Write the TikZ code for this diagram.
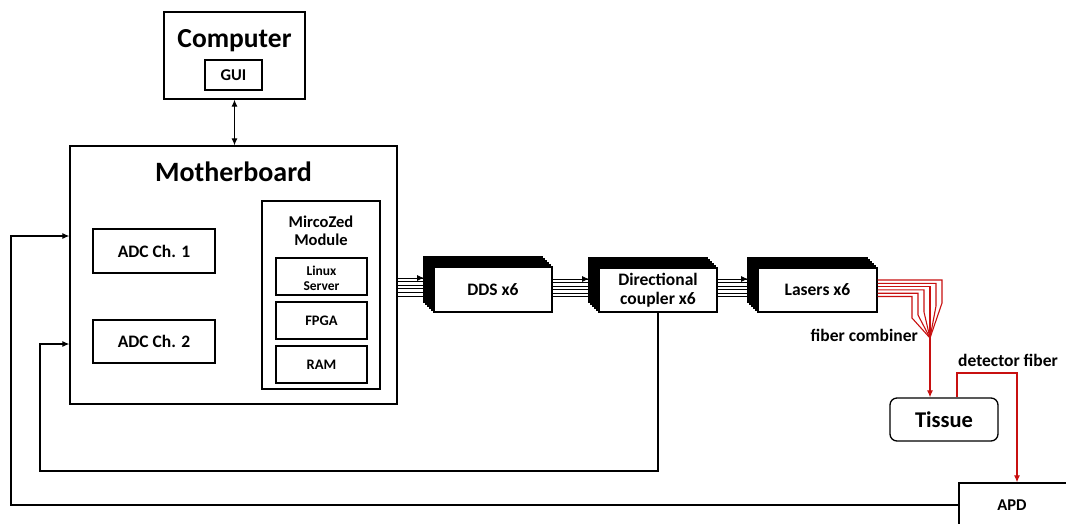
\documentclass[tikz,border=0pt]{standalone}
\usepackage{fontspec}
\setmainfont{Carlito}
\usetikzlibrary{arrows.meta}
\definecolor{fibred}{RGB}{200,16,16}
\newcommand\fsz[1]{\fontsize{#1}{#1}\selectfont\bfseries}
\begin{document}
\begin{tikzpicture}[x=1pt,y=-1pt,
  box/.style={draw, line width=1.3pt, fill=white, inner sep=0pt, align=center},
  layer/.style={draw, line width=1.1pt, fill=white},
  lbl/.style={inner sep=0pt, font=\fsz{17.5}},
  conn/.style={line width=1.1pt},
  tip/.style={-{Latex[length=7pt,width=6pt]}},
  fib/.style={draw=fibred, line width=1.1pt},
]
\useasboundingbox (0,0) rectangle (1066,523);

% Computer
\node[box, minimum width=141pt, minimum height=87pt] (comp) at (234.5,55.5) {};
\node[lbl, anchor=base, font=\fsz{27.5}] (comptxt) at (234.5,47) {Computer};
\node[box, minimum width=57pt, minimum height=30pt, font=\fsz{16.5}] (gui) at (233.5,75) {GUI};

% Motherboard
\node[box, minimum width=327pt, minimum height=258pt] (mb) at (233.5,275) {};
\node[lbl, anchor=base, font=\fsz{28}] (mbtxt) at (233.5,181) {Motherboard};
\node[box, minimum width=122pt, minimum height=44pt, font=\fsz{17.5}] (adc1) at (154,251) {ADC Ch. 1};
\node[box, minimum width=122pt, minimum height=43pt, font=\fsz{17.5}] (adc2) at (154,341.5) {ADC Ch. 2};

% MicroZed module
\node[box, minimum width=118pt, minimum height=188pt] (mz) at (321,295) {};
\node[lbl, anchor=base, font=\fsz{16.5}] (mzt1) at (321,227) {MircoZed};
\node[lbl, anchor=base, font=\fsz{16.5}] (mzt2) at (321,245) {Module};
\node[box, minimum width=91pt, minimum height=37pt] (linux) at (321.5,276.5) {};
\node[lbl, anchor=base, font=\fsz{13.5}] (lin1) at (321.5,275) {Linux};
\node[lbl, anchor=base, font=\fsz{13.5}] (lin2) at (321.5,290) {Server};
\node[box, minimum width=91pt, minimum height=37pt, font=\fsz{14.5}] (fpga) at (321.5,320.5) {FPGA};
\node[box, minimum width=91pt, minimum height=37pt, font=\fsz{14.5}] (ram) at (321.5,364.5) {RAM};

% Computer <-> Motherboard
\draw[conn, {Latex[length=7pt,width=6pt]}-{Latex[length=7pt,width=6pt]}] (comp.south) -- (mb.north -| comp.south);

% DDS stack
\foreach \k in {5,4,...,1}
  \draw[layer] ({434-2*\k},{267-2*\k}) rectangle ({552-2*\k},{312-2*\k});
\node[box, minimum width=118pt, minimum height=45pt, font=\fsz{17.5}] (dds) at (493,289.5) {DDS x6};
\coordinate (ddsback) at (424,289);

% Directional coupler stack
\foreach \k in {5,4,...,1}
  \draw[layer] ({599-2*\k},{268-2*\k}) rectangle ({717-2*\k},{312-2*\k});
\node[box, minimum width=118pt, minimum height=44pt, font=\fsz{17.5}] (dc) at (658,290) {Directional\\[1.5pt]coupler x6};
\coordinate (dcback) at (589,289);

% Lasers stack
\foreach \k in {5,4,...,1}
  \draw[layer] ({758-2*\k},{268-2*\k}) rectangle ({877-2*\k},{312-2*\k});
\node[box, minimum width=119pt, minimum height=44pt, font=\fsz{17.5}] (las) at (817.5,290) {Lasers x6};
\coordinate (lasback) at (748,289);

% bus lines
\foreach \i in {0,...,5} {
  \draw[conn, line width=0.9pt] (mb.east |- 0,{278+3.6*\i}) -- (ddsback |- 0,{278+3.6*\i});
  \draw[conn, line width=0.9pt] (dds.east |- 0,{279+3.5*\i}) -- (dcback |- 0,{279+3.5*\i});
  \draw[conn, line width=0.9pt] (dc.east |- 0,{279+3.5*\i}) -- (lasback |- 0,{279+3.5*\i});
}
\draw[tip, line width=0.9pt] (mb.east |- 0,278) -- (ddsback |- 0,278);
\draw[tip, line width=0.9pt] (dds.east |- 0,279) -- (dcback |- 0,279);
\draw[tip, line width=0.9pt] (dc.east |- 0,279) -- (lasback |- 0,279);

% fiber combiner
\coordinate (fc) at (930,338);
\foreach \i in {0,...,5}
  \draw[fib, line width=1.1pt] (las.east |- 0,{280+3.3*\i}) -- ({942-6*\i},{280+3.3*\i}) -- ({942-6*\i},{303+3*\i}) -- (fc);
\node[lbl, anchor=base east] (fctxt) at (918,341) {fiber combiner};

% Tissue
\node[box, rounded corners=7pt, minimum width=108pt, minimum height=43pt, font=\fsz{22.5}] (tis) at (944,419.5) {Tissue};
\draw[fib, tip] (fc) -- (tis.north -| fc);

% APD
\node[box, minimum width=112pt, minimum height=44pt, font=\fsz{16.5}] (apd) at (1015,505) {};
\node[lbl, font=\fsz{16.5}] (apdtxt) at (1012,505) {APD};

% detector fiber
\coordinate (df1) at (957,373);
\coordinate (df2) at (1017,373);
\draw[fib, tip] (tis.north -| df1) -- (df1) -- (df2) -- (apd.north -| df2);
\node[lbl, anchor=base west] (dftxt) at (958,366) {detector fiber};

% feedback loops
\coordinate (l1) at (40,471);
\draw[conn, tip] (dc.south) |- (l1) |- (mb.west |- 0,344);
\coordinate (l2) at (11,236);
\draw[conn, tip] (apd.west) -| (l2) -- (mb.west |- l2);
\end{tikzpicture}
\end{document}
